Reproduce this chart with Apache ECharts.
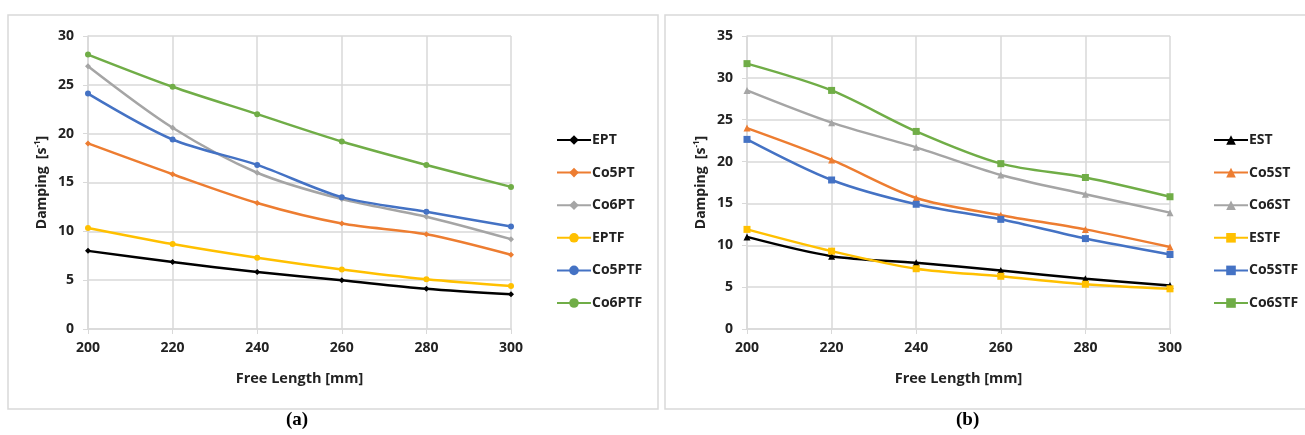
<!DOCTYPE html>
<html>
<head>
<meta charset="utf-8">
<script src="https://cdn.jsdelivr.net/npm/echarts@6/dist/echarts.min.js"></script>
<style>
    html, body { margin: 0; padding: 0; background: #fff; }
    #main { width: 1305px; height: 435px; }
</style>
</head>
<body>
<div id="main"></div>
<script>
// free length [mm]
var freeLength = [200, 220, 240, 260, 280, 300];

// (a) damping [1/s]
var ept = [8.0, 6.85, 5.83, 4.98, 4.12, 3.55];
var co5pt = [19.0, 15.85, 12.9, 10.8, 9.7, 7.6];
var co6pt = [26.9, 20.6, 16.0, 13.3, 11.5, 9.2];
var eptf = [10.35, 8.7, 7.3, 6.1, 5.1, 4.4];
var co5ptf = [24.1, 19.4, 16.8, 13.5, 12.0, 10.5];
var co6ptf = [28.1, 24.8, 22.0, 19.2, 16.8, 14.55];

// (b) damping [1/s]
var est = [11.0, 8.7, 7.9, 7.0, 6.0, 5.2];
var co5st = [24.0, 20.2, 15.65, 13.6, 11.9, 9.8];
var co6st = [28.5, 24.65, 21.7, 18.4, 16.1, 13.9];
var estf = [11.9, 9.3, 7.2, 6.3, 5.35, 4.8];
var co5stf = [22.65, 17.8, 14.9, 13.1, 10.8, 8.9];
var co6stf = [31.7, 28.5, 23.6, 19.75, 18.1, 15.8];

var namesA = ['EPT', 'Co5PT', 'Co6PT', 'EPTF', 'Co5PTF', 'Co6PTF'];
var namesB = ['EST', 'Co5ST', 'Co6ST', 'ESTF', 'Co5STF', 'Co6STF'];

var colors = ['#000000', '#ED7D31', '#A5A5A5', '#FFC000', '#4472C4', '#70AD47'];
var font = 'Open Sans';
var gridColor = '#d9d9d9';

function pairs(values) {
    return freeLength.map(function (x, i) { return [x, values[i]]; });
}

function makeSeries(names, lists, idx, symbols) {
    return names.map(function (n, i) {
        var s = symbols[i];
        return {
            name: n,
            type: 'line',
            xAxisIndex: idx,
            yAxisIndex: idx,
            smooth: 0.3,
            symbol: s,
            symbolSize: s === 'diamond' ? 6 : (s === 'circle' ? 6 : 7),
            color: colors[i],
            lineStyle: { width: 2.5, color: colors[i] },
            itemStyle: { color: colors[i] },
            data: pairs(lists[i])
        };
    });
}

function xAxisCfg(idx) {
    return {
        type: 'value',
        gridIndex: idx,
        min: 200, max: 300, interval: 20,
        name: 'Free Length [mm]',
        nameLocation: 'middle',
        nameGap: 42,
        nameTextStyle: { fontFamily: font, fontWeight: 'bold', fontSize: 14.5, color: '#222' },
        axisLine: { show: true, lineStyle: { color: gridColor, width: 1.5 } },
        axisTick: { show: true, length: 5, lineStyle: { color: gridColor } },
        axisLabel: { fontFamily: font, fontWeight: 'bold', fontSize: 14, color: '#222', margin: 12 },
        splitLine: { show: true, lineStyle: { color: gridColor, width: 1.5 } }
    };
}

function yAxisCfg(idx, max) {
    return {
        type: 'value',
        gridIndex: idx,
        min: 0, max: max, interval: 5,
        name: '{b|Damping  [s}{sup|-1}{b|]}',
        nameLocation: 'middle',
        nameGap: 38,
        nameRotate: 90,
        nameTextStyle: {
            rich: {
                b: { fontFamily: font, fontWeight: 'bold', fontSize: 14, color: '#222' },
                sup: { fontFamily: font, fontWeight: 'bold', fontSize: 8, color: '#222', padding: [0, 0, 8, 0] }
            }
        },
        axisLine: { show: true, lineStyle: { color: gridColor, width: 1.5 } },
        axisTick: { show: true, length: 5, lineStyle: { color: gridColor } },
        axisLabel: { fontFamily: font, fontWeight: 'bold', fontSize: 14, color: '#222', margin: 14 },
        splitLine: { show: true, lineStyle: { color: gridColor, width: 1.5 } }
    };
}

function legendCfg(names, left) {
    return {
        data: names,
        orient: 'vertical',
        left: left,
        top: 128,
        itemWidth: 34,
        itemHeight: 12,
        itemGap: 18.6,
        textStyle: { fontFamily: font, fontWeight: 'bold', fontSize: 14, color: '#222', padding: [0, 0, 0, -4] }
    };
}

var myChart = echarts.init(document.getElementById('main'));

var option = {
    animation: false,
    backgroundColor: '#fff',
    graphic: [
        { type: 'rect', shape: { x: 8, y: 15, width: 650, height: 394 }, style: { fill: 'none', stroke: gridColor, lineWidth: 1.5 }, z: -1 },
        { type: 'rect', shape: { x: 665, y: 15, width: 660, height: 394 }, style: { fill: 'none', stroke: gridColor, lineWidth: 1.5 }, z: -1 },
        { type: 'text', left: 286, top: 411, style: { text: '(a)', font: 'bold 19px "Liberation Serif"', fill: '#000' } },
        { type: 'text', left: 956, top: 411, style: { text: '(b)', font: 'bold 19px "Liberation Serif"', fill: '#000' } }
    ],
    legend: [legendCfg(namesA, 551), legendCfg(namesB, 1208)],
    grid: [
        { left: 88, right: 794, top: 36, bottom: 106 },
        { left: 747, right: 135, top: 36, bottom: 106 }
    ],
    xAxis: [xAxisCfg(0), xAxisCfg(1)],
    yAxis: [yAxisCfg(0, 30), yAxisCfg(1, 35)],
    series: makeSeries(namesA, [ept, co5pt, co6pt, eptf, co5ptf, co6ptf], 0,
            ['diamond', 'diamond', 'diamond', 'circle', 'circle', 'circle'])
        .concat(makeSeries(namesB, [est, co5st, co6st, estf, co5stf, co6stf], 1,
            ['triangle', 'triangle', 'triangle', 'rect', 'rect', 'rect']))
};

myChart.setOption(option);
</script>
</body>
</html>
